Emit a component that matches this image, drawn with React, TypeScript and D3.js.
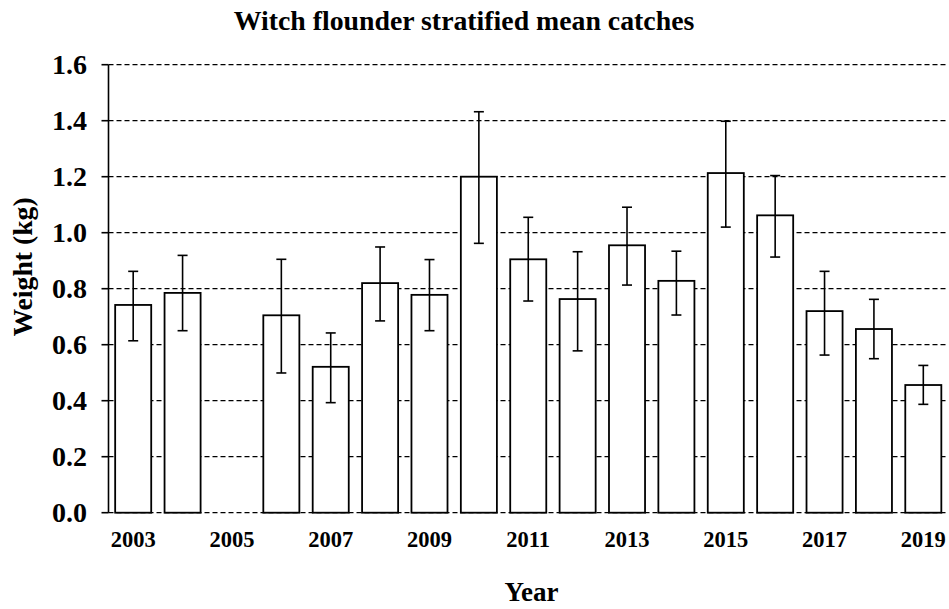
import React from 'react';
import * as d3 from 'd3';

// Witch flounder stratified mean catches (kg per tow), 2005 not surveyed
const years = ['2003','2004','2005','2006','2007','2008','2009','2010','2011','2012','2013','2014','2015','2016','2017','2018','2019'];
const means = [0.742, 0.785, null, 0.705, 0.521, 0.820, 0.778, 1.200, 0.905, 0.763, 0.955, 0.828, 1.213, 1.062, 0.720, 0.656, 0.456];
const upper = [0.862, 0.919, null, 0.905, 0.642, 0.949, 0.904, 1.432, 1.055, 0.932, 1.091, 0.934, 1.398, 1.204, 0.862, 0.762, 0.526];
const lower = [0.614, 0.650, null, 0.499, 0.393, 0.685, 0.650, 0.962, 0.756, 0.578, 0.813, 0.706, 1.020, 0.913, 0.563, 0.550, 0.387];
const yTicks = [0, 0.2, 0.4, 0.6, 0.8, 1.0, 1.2, 1.4, 1.6];
const xLabels = ['2003','2005','2007','2009','2011','2013','2015','2017','2019'];

const font = '"Liberation Serif", "Times New Roman", serif';

export default function App() {
  const W = 949, H = 609;
  const left = 108.5, right = 948, top = 64.7, bottom = 512.7;

  const x = d3.scaleBand().domain(years).range([left, right]).paddingInner(0.27).paddingOuter(0.135);
  const y = d3.scaleLinear().domain([0, 1.6]).range([bottom, top]);
  const cap = 5;

  return (
    <svg width={W} height={H} style={{position: 'absolute', left: 0, top: 0, background: '#fff'}} fontFamily={font} fontWeight="bold">
      <text x={464} y={30} textAnchor="middle" fontSize={27.8}>Witch flounder stratified mean catches</text>

      {/* dashed grid */}
      {yTicks.map(t => (
        <line key={'g' + t} x1={left} x2={right} y1={y(t)} y2={y(t)} stroke="#000" strokeWidth={1.3} strokeDasharray="5,3" />
      ))}

      {/* bars */}
      {years.map((yr, i) => means[i] == null ? null : (
        <rect key={'b' + yr} x={x(yr)} y={y(means[i] as number)} width={x.bandwidth()} height={bottom - y(means[i] as number)}
          fill="#fff" stroke="#000" strokeWidth={1.8} />
      ))}

      {/* error bars */}
      {years.map((yr, i) => {
        if (means[i] == null) return null;
        const cx = (x(yr) as number) + x.bandwidth() / 2;
        return (
          <g key={'e' + yr} stroke="#000" strokeWidth={1.6}>
            <line x1={cx} x2={cx} y1={y(upper[i] as number)} y2={y(lower[i] as number)} />
            <line x1={cx - cap} x2={cx + cap} y1={y(upper[i] as number)} y2={y(upper[i] as number)} />
            <line x1={cx - cap} x2={cx + cap} y1={y(lower[i] as number)} y2={y(lower[i] as number)} />
          </g>
        );
      })}

      {/* y axis */}
      <line x1={left} x2={left} y1={top} y2={bottom} stroke="#000" strokeWidth={1.6} />
      {yTicks.map(t => (
        <g key={'t' + t}>
          <line x1={left - 7} x2={left} y1={y(t)} y2={y(t)} stroke="#000" strokeWidth={1.6} />
          <text x={87} y={y(t)} dy="0.34em" textAnchor="end" fontSize={28}>{t.toFixed(1)}</text>
        </g>
      ))}

      {/* x labels */}
      {xLabels.map(l => (
        <text key={'x' + l} x={(x(l) as number) + x.bandwidth() / 2} y={547} textAnchor="middle" fontSize={22.5}>{l}</text>
      ))}

      <text x={531.5} y={601} textAnchor="middle" fontSize={27}>Year</text>
      <text transform={`translate(32,267) rotate(-90)`} textAnchor="middle" fontSize={27.7}>Weight (kg)</text>
    </svg>
  );
}
